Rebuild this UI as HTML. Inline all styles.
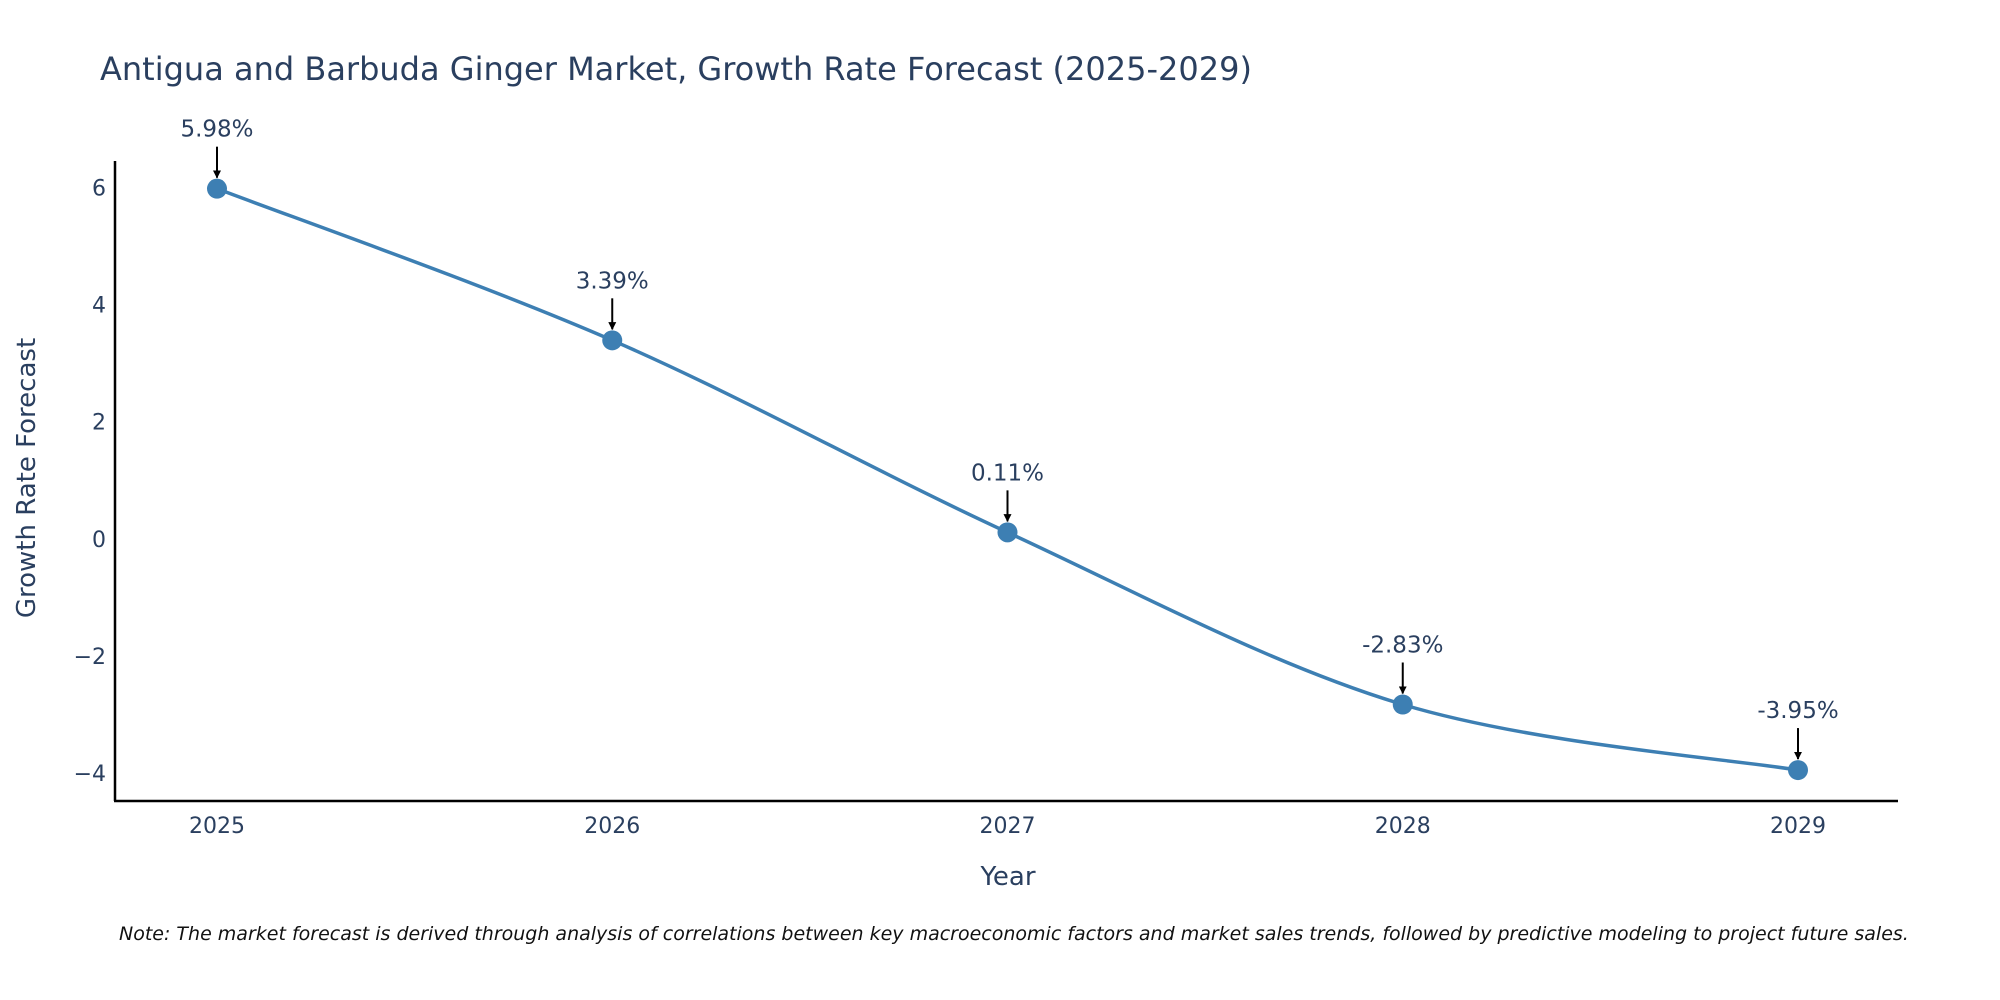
<!DOCTYPE html>
<html><head><meta charset="utf-8"><style>
body{margin:0;background:#fff;}
svg{display:block;font-family:"DejaVu Sans","Liberation Sans",sans-serif;}
</style></head><body>
<svg id="chart" width="2000" height="1000" viewBox="0 0 2000 1000" xmlns="http://www.w3.org/2000/svg">
<defs><marker id="ah" viewBox="0 0 10 10" refX="9" refY="5" markerWidth="4" markerHeight="4" orient="auto"><path d="M0,0 L10,5 L0,10 z" fill="#000"/></marker></defs>
<text x="100" y="80" font-size="32" fill="#2a3f5f">Antigua and Barbuda Ginger Market, Growth Rate Forecast (2025-2029)</text>
<g id="axes"></g>
<g id="series"></g>
<text transform="translate(35,478) rotate(-90)" text-anchor="middle" font-size="26" fill="#2a3f5f">Growth Rate Forecast</text>
<text x="1008" y="885" text-anchor="middle" font-size="26" fill="#2a3f5f">Year</text>
<text x="119" y="940" font-size="19" font-style="italic" fill="#111">Note: The market forecast is derived through analysis of correlations between key macroeconomic factors and market sales trends, followed by predictive modeling to project future sales.</text>
</svg>
<script>
const categories=["2025","2026","2027","2028","2029"];
const values=[5.98,3.39,0.11,-2.83,-3.95];
const labels=["5.98%","3.39%","0.11%","-2.83%","-3.95%"];
const yTicks=[-4,-2,0,2,4,6];
const NS="http://www.w3.org/2000/svg";
const x0=217,x1=1798,yA=187.5,yB=773;
const xs=i=>x0+(x1-x0)*i/(categories.length-1);
const ys=v=>yB+(v+4)*(yA-yB)/10;
function mk(t,a,p){const e=document.createElementNS(NS,t);for(const k in a)e.setAttribute(k,a[k]);p.appendChild(e);return e;}
const ax=document.getElementById('axes'),se=document.getElementById('series');
let l=mk('line',{x1:115,y1:161,x2:115,y2:801,stroke:'#000','stroke-width':2.5},ax);


l=mk('line',{x1:114,y1:801,x2:1898,y2:801,stroke:'#000','stroke-width':2.5},ax);


yTicks.forEach(v=>{const t=mk('text',{x:106,y:ys(v)+8,'text-anchor':'end','font-size':22,fill:'#2a3f5f'},ax);t.textContent=String(v).replace('-','\u2212');

});
categories.forEach((c,i)=>{const t=mk('text',{x:xs(i),y:833,'text-anchor':'middle','font-size':22,fill:'#2a3f5f'},ax);t.textContent=c;

});
const P=values.map((v,i)=>[xs(i),ys(v)]);
let d=`M${P[0][0]},${P[0][1]}`;const k=1/6;
for(let i=0;i<P.length-1;i++){const p0=P[i-1]||P[i],p1=P[i],p2=P[i+1],p3=P[i+2]||P[i+1];
d+=` C${p1[0]+(p2[0]-p0[0])*k},${p1[1]+(p2[1]-p0[1])*k} ${p2[0]-(p3[0]-p1[0])*k},${p2[1]-(p3[1]-p1[1])*k} ${p2[0]},${p2[1]}`;}
const line=mk('path',{d:d,fill:'none',stroke:'#3d7fb3','stroke-width':3.5},se);


P.forEach((p,i)=>{const c=mk('circle',{cx:p[0],cy:p[1],r:10,fill:'#3d7fb3'},se);


const a=mk('line',{x1:p[0],y1:p[1]-42,x2:p[0],y2:p[1]-11,stroke:'#000','stroke-width':2,'marker-end':'url(#ah)'},se);


const t=mk('text',{x:p[0],y:p[1]-52,'text-anchor':'middle','font-size':23,fill:'#2a3f5f'},se);t.textContent=labels[i];

});
</script>
</body></html>
